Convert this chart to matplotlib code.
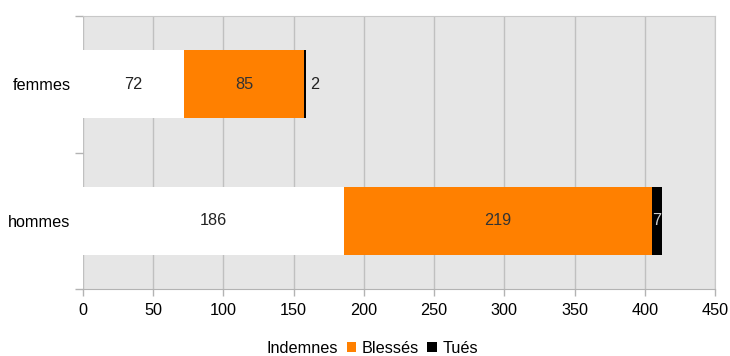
import matplotlib
matplotlib.use("Agg")
import matplotlib.pyplot as plt
from matplotlib.patches import Patch

plt.rcParams['font.family'] = ['Liberation Sans', 'DejaVu Sans']

categories = ["hommes", "femmes"]
indemnes = [186, 72]
blesses = [219, 85]
tues = [7, 2]
series_names = ["Indemnes", "Blessés", "Tués"]
colors = ["#ffffff", "#ff8000", "#000000"]
x_ticks = [0, 50, 100, 150, 200, 250, 300, 350, 400, 450]

fig = plt.figure(figsize=(7.30, 3.56), dpi=100)
ax = fig.add_axes([0.1137, 0.188, 0.8658, 0.767])
ax.set_facecolor("#e6e6e6")

ypos = list(range(len(categories)))
h = 0.5
ax.barh(ypos, indemnes, height=h, color=colors[0], zorder=3)
left2 = indemnes
ax.barh(ypos, blesses, left=left2, height=h, color=colors[1], zorder=3)
left3 = [a + b for a, b in zip(indemnes, blesses)]
ax.barh(ypos, tues, left=left3, height=h, color=colors[2], zorder=3)

fs = 11.7
for y, v in zip(ypos, indemnes):
    ax.text(v / 2, y, str(v), ha="center", va="center", fontsize=fs, color="#222222", zorder=4)
for y, l, v in zip(ypos, left2, blesses):
    ax.text(l + v / 2, y, str(v), ha="center", va="center", fontsize=fs, color="#333333", zorder=4)
for y, l, v in zip(ypos, left3, tues):
    if v >= 5:
        ax.text(l + v / 2, y, str(v), ha="center", va="center", fontsize=fs, color="#cccccc", zorder=4)
    else:
        ax.annotate(str(v), (l + v, y), xytext=(3, 0), textcoords="offset points",
                    ha="left", va="center", fontsize=fs, color="#222222", zorder=4)

ax.set_xlim(0, 450)
ax.set_ylim(-0.5, 1.5)
ax.set_xticks(x_ticks)
ax.set_xticklabels([str(t) for t in x_ticks], fontsize=fs)
ax.set_yticks(ypos)
ax.set_yticklabels(categories, fontsize=fs)
ax.set_yticks([-0.5, 0.5, 1.5], minor=True)
ax.tick_params(axis="y", which="major", length=0, pad=9)
ax.tick_params(axis="y", which="minor", length=6, color="#b3b3b3", width=1)
ax.tick_params(axis="x", length=5, color="#b3b3b3", width=1, pad=5)
ax.xaxis.grid(True, color="#c0c0c0", linewidth=1, zorder=0)
ax.set_axisbelow(True)
for s in ["top", "right"]:
    ax.spines[s].set_color("#c8c8c8")
ax.spines["bottom"].set_color("#b3b3b3")
ax.spines["left"].set_visible(False)

handles = [Patch(facecolor=c, edgecolor="none") for c in colors]
fig.legend(handles, series_names, loc="lower center", bbox_to_anchor=(0.5, -0.04),
           ncol=3, frameon=False, fontsize=fs, handlelength=0.6, handleheight=0.6,
           handletextpad=0.35, columnspacing=0.5)

fig.savefig("out.png", dpi=100)
